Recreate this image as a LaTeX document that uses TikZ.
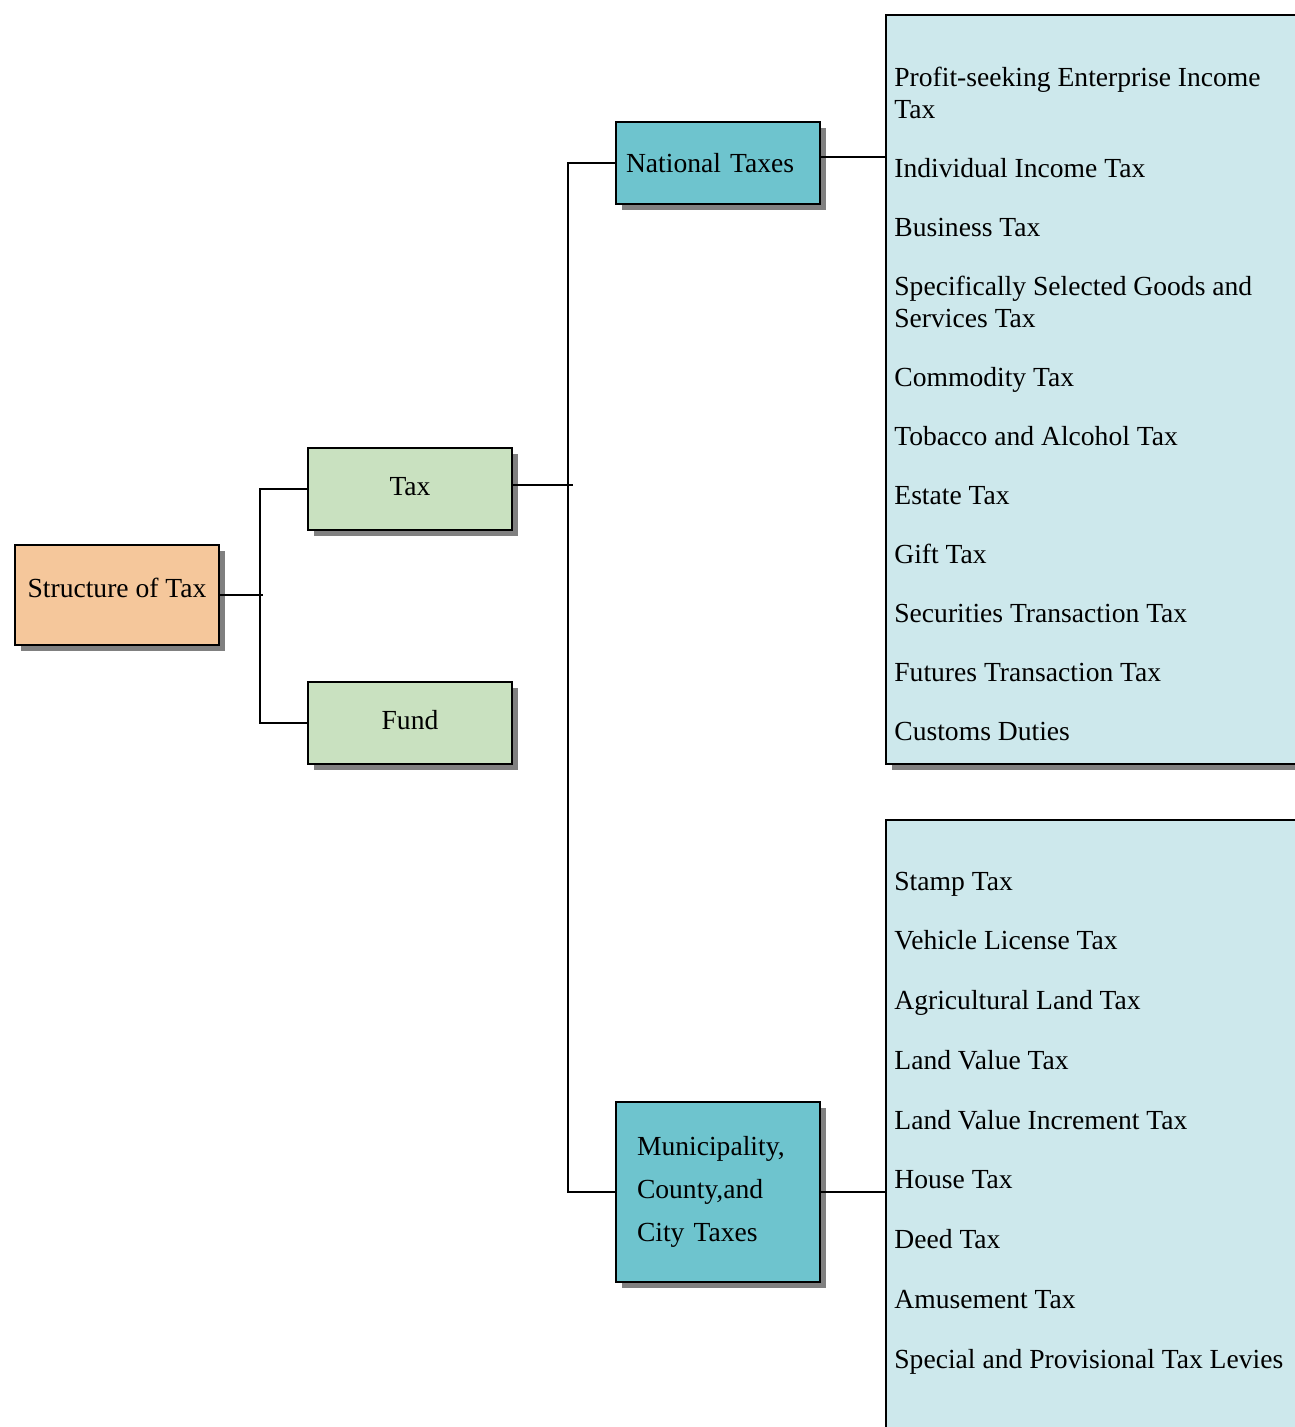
\documentclass[tikz,border=0pt]{standalone}
\usepackage{fontspec}
\setmainfont{Liberation Serif}
\usetikzlibrary{shadows}

\definecolor{peach}{RGB}{245,199,155}
\definecolor{leaf}{RGB}{201,225,192}
\definecolor{teal}{RGB}{110,196,206}
\definecolor{pale}{RGB}{205,232,236}

\tikzset{
  box/.style={
    rectangle,
    draw,
    line width=1.1pt,
    minimum width=40.8mm,
    minimum height=16.4mm,
    drop shadow={shadow xshift=1.2mm, shadow yshift=-1.2mm, fill=black!50, opacity=1},
  },
  link/.style={line width=0.9pt},
  items/.style={anchor=north west, align=left, inner sep=0pt},
}

\begin{document}
\begin{tikzpicture}[node distance=1cm]
  \fontsize{15.7pt}{18.2pt}\selectfont
  \useasboundingbox (0,0) rectangle (25.88,-28.54);

  \node[
  box,
  fill=peach,
  minimum height=20mm,
  text depth=2.8mm,
  ] (st) at (2.34,-11.9) {Structure of Tax};

  \node[
  right of=st,
  box,
  fill=leaf,
  text depth=1.2mm,
  xshift=48.6mm,
  yshift=21.2mm] (tax) {Tax};

  \node[
  below of=tax,
  box,
  fill=leaf,
  text depth=1.4mm,
  yshift=-36.8mm] (fund) {Fund};

  \node[
  right of=tax,
  box,
  fill=teal,
  text width=36.8mm,
  inner xsep=2mm,
  align=left,
  xshift=51.6mm,
  yshift=65.2mm] (nat) {National Taxes};

  \node[
  below of=nat,
  box,
  fill=teal,
  minimum height=36mm,
  text width=32.4mm,
  inner xsep=4.2mm,
  align=left,
  yshift=-195.8mm] (loc) {Municipality,\\[6.3pt] County,and\\[6.3pt] City Taxes\\[-5pt]};

  % item lists
  \node[
  box,
  fill=pale,
  minimum width=88.8mm,
  minimum height=149.8mm] (natlist) at (22.16,-7.79) {};

  \node[
  box,
  fill=pale,
  minimum width=88.8mm,
  minimum height=128mm] (loclist) at (22.16,-22.8) {};

  \node[items] (natitems) at ([xshift=1.8mm,yshift=-10.5mm]natlist.north west)
  {Profit-seeking Enterprise Income\\ Tax\\[15.4pt]
   Individual Income Tax\\[15.4pt]
   Business Tax\\[15.4pt]
   Specifically Selected Goods and\\ Services Tax\\[15.4pt]
   Commodity Tax\\[15.4pt]
   Tobacco and Alcohol Tax\\[15.4pt]
   Estate Tax\\[15.4pt]
   Gift Tax\\[15.4pt]
   Securities Transaction Tax\\[15.4pt]
   Futures Transaction Tax\\[15.4pt]
   Customs Duties};

  \node[items] (locitems) at ([xshift=1.8mm,yshift=-10.5mm]loclist.north west)
  {Stamp Tax\\[15.8pt]
   Vehicle License Tax\\[15.8pt]
   Agricultural Land Tax\\[15.8pt]
   Land Value Tax\\[15.8pt]
   Land Value Increment Tax\\[15.8pt]
   House Tax\\[15.8pt]
   Deed Tax\\[15.8pt]
   Amusement Tax\\[15.8pt]
   Special and Provisional Tax Levies};

  \coordinate (spineA) at (5.2,0);
  \coordinate (spineB) at (11.36,0);

  \draw[link] (st.east) -- ++(0.86,0);
  \draw[link] (tax.west) -- (tax.west -| spineA) -- (fund.west -| spineA) -- (fund.west);
  \draw[link] ([yshift=0.8mm]tax.east) -- ++(1.2,0);
  \draw[link] (nat.west) -- (nat.west -| spineB) -- (loc.west -| spineB) -- (loc.west);
  \draw[link] ([yshift=1.2mm]nat.east) -- ([yshift=1.2mm]nat.east -| natlist.west);
  \draw[link] (loc.east) -- (loc.east -| loclist.west);
\end{tikzpicture}
\end{document}
